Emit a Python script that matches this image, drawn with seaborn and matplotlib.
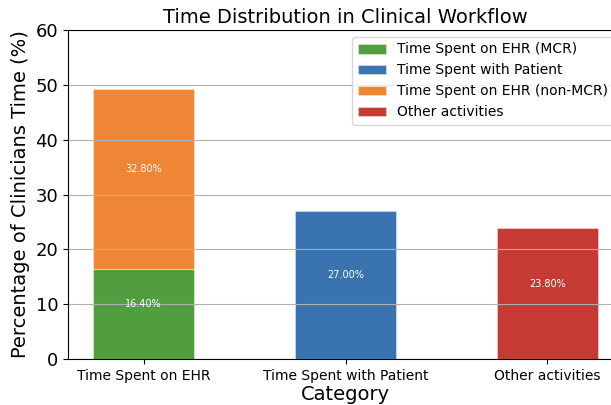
import matplotlib
matplotlib.use("Agg")
import matplotlib.pyplot as plt
import seaborn as sns

categories = ["Time Spent on EHR", "Time Spent with Patient", "Other activities"]
segments = ["Time Spent on EHR (MCR)", "Time Spent with Patient",
            "Time Spent on EHR (non-MCR)", "Other activities"]
seg_cat = [categories[0], categories[1], categories[0], categories[2]]
seg_val = [16.4, 27.0, 32.8, 23.8]
seg_bottom = [0.0, 0.0, 16.4, 0.0]
seg_color = ["#509e3f", "#3a74b0", "#ef8636", "#c53a33"]

fig = plt.figure(figsize=(6.11, 4.05), dpi=100)
ax = fig.add_axes([68 / 611, 46 / 405, 555 / 611, 329 / 405])

for name, cat, val, bot, col in zip(segments, seg_cat, seg_val, seg_bottom, seg_color):
    sns.barplot(x=[cat], y=[val], order=categories, color=col, width=0.5,
                saturation=1, bottom=bot, label=name, ax=ax,
                edgecolor=(1, 1, 1, 0.35), linewidth=0.8)
    ax.annotate(f"{val:.2f}%", (categories.index(cat), bot + val / 2),
                xytext=(0, 7), textcoords="offset points",
                ha="center", va="center", color="white", fontsize=7)

ax.set_xlim(-0.375, 2.375)
ax.set_ylim(0, 60)
ax.yaxis.grid(True, color="#b0b0b0", linewidth=0.8)
ax.xaxis.grid(False)
ax.set_title("Time Distribution in Clinical Workflow", fontsize=14, pad=5)
ax.set_xlabel("Category", fontsize=14, labelpad=2)
ax.set_ylabel("Percentage of Clinicians Time (%)", fontsize=14)
ax.tick_params(axis="x", labelsize=10)
ax.tick_params(axis="y", labelsize=13)
ax.legend(loc="upper right", fontsize=10, bbox_to_anchor=(0.995, 1.0))

fig.savefig("out.png", dpi=100)
